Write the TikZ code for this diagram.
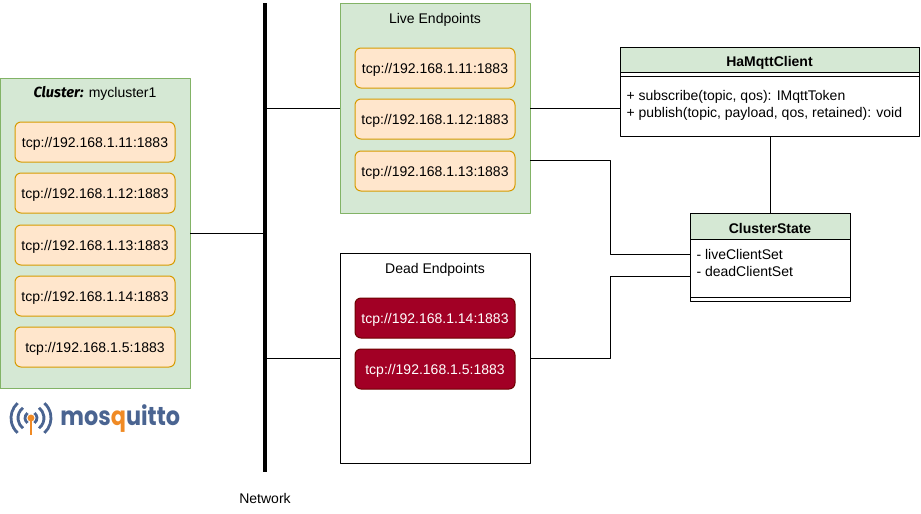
\documentclass[tikz,border=0pt]{standalone}
\usepackage{fontspec}
\setmainfont{Liberation Sans}
\newfontfamily\titlefont{Fira Sans}
\newfontfamily\logofont{Poppins}
\definecolor{boxgreen}{HTML}{D5E8D4}
\definecolor{linegreen}{HTML}{82B366}
\definecolor{boxorange}{HTML}{FFE6CC}
\definecolor{lineorange}{HTML}{D79B00}
\definecolor{boxred}{HTML}{A20025}
\definecolor{linered}{HTML}{6F0000}
\definecolor{logoblue}{HTML}{4A6491}
\definecolor{logoorange}{HTML}{F08A24}
\tikzset{
	endpoint/.style={draw=lineorange,fill=boxorange,rounded corners=4.5pt,minimum width=120pt,minimum height=30pt,inner sep=0pt,outer sep=0pt,text height=7.6pt,text depth=0pt},
	deadpoint/.style={endpoint,draw=linered,fill=boxred,text=white},
	greenbox/.style={draw=linegreen,fill=boxgreen,minimum width=142.5pt,minimum height=232.5pt,inner sep=0pt,outer sep=0pt},
	deadbox/.style={greenbox,draw=black,fill=white,minimum height=157.5pt},
	classbox/.style={draw=black,fill=white,inner sep=0pt,outer sep=0pt},
	classhead/.style={draw=black,fill=boxgreen,inner sep=0pt,outer sep=0pt,text height=10.5pt,text depth=0pt,font=\fontsize{10.5pt}{12pt}\selectfont\bfseries},
	boxtitle/.style={inner sep=0pt,text height=7.6pt,text depth=0pt},
	classtext/.style={inner sep=0pt,anchor=west,align=left},
	wire/.style={draw=black}
}
\begin{document}
\begin{tikzpicture}[x=0.75pt,y=-0.75pt,font=\fontsize{10.5pt}{13pt}\selectfont,line width=0.75pt,line join=round]
	\useasboundingbox (0,0) rectangle (921,514);
	% cluster on the left
	\node[greenbox] (cluster) at (95,233) {};
	\node[boxtitle] (clustertitle) at (95,92) {{\titlefont\bfseries\itshape\fontsize{11pt}{13pt}\selectfont Cluster:} mycluster1};
	\node[endpoint] (c1) at (95,142) {tcp://192.168.1.11:1883};
	\node[endpoint] (c2) at (95,193) {tcp://192.168.1.12:1883};
	\node[endpoint] (c3) at (95,245) {tcp://192.168.1.13:1883};
	\node[endpoint] (c4) at (95,296) {tcp://192.168.1.14:1883};
	\node[endpoint] (c5) at (95,347) {tcp://192.168.1.5:1883};
	% logo
	\coordinate (pin) at (31,418);
	\foreach \r/\a in {6/55,13/52,20/48}{
		\draw[logoblue,line width=2.1pt] ([shift={(180-\a:\r*0.75pt)}]pin) arc[start angle=180-\a,end angle=180+\a,radius=\r*0.75pt];
		\draw[logoblue,line width=2.1pt] ([shift={(-\a:\r*0.75pt)}]pin) arc[start angle=-\a,end angle=\a,radius=\r*0.75pt];
	}
	\draw[logoorange,line width=1pt] (pin) -- (31,435);
	\fill[logoorange] (pin) circle(2.6pt);
	\node[inner sep=0pt,anchor=base west,xscale=0.86,text=logoblue,font=\logofont\bfseries\fontsize{19.5pt}{22pt}\selectfont] (logotext) at (60,425) {mos{\color{logoorange}q}uitto};
	% network bar
	\node[fill=black,minimum width=3pt,minimum height=352pt,inner sep=0pt,outer sep=0pt] (bar) at (265,237.5) {};
	\node[inner sep=0pt] (network) at (265,498) {Network};
	% live endpoints
	\node[greenbox,minimum height=157.5pt] (live) at (435,108) {};
	\node[boxtitle] (livetitle) at (435,18) {Live Endpoints};
	\node[endpoint] (l1) at (435,68) {tcp://192.168.1.11:1883};
	\node[endpoint] (l2) at (435,119) {tcp://192.168.1.12:1883};
	\node[endpoint] (l3) at (435,171) {tcp://192.168.1.13:1883};
	% dead endpoints
	\node[deadbox] (dead) at (435,358) {};
	\node[boxtitle] (deadtitle) at (435,268) {Dead Endpoints};
	\node[deadpoint] (d1) at (435,318) {tcp://192.168.1.14:1883};
	\node[deadpoint] (d2) at (435,369) {tcp://192.168.1.5:1883};
	% ha client
	\node[classbox,minimum width=224.25pt,minimum height=66.75pt] (client) at (769.5,91.5) {};
	\node[classhead,minimum width=224.25pt,minimum height=18.75pt] (clienthead) at (769.5,59.5) {HaMqttClient};
	\draw (client.west |- 0,76) -- (client.east |- 0,76);
	\node[classtext] (clienttext) at (626,105.5) {+ subscribe(topic, qos): IMqttToken\\+ publish(topic, payload, qos, retained): void};
	% cluster state
	\node[classbox,minimum width=120pt,minimum height=66pt] (state) at (770,257) {};
	\node[classhead,minimum width=120pt,minimum height=19.5pt] (statehead) at (770,226) {ClusterState};
	\draw (state.west |- 0,297) -- (state.east |- 0,297);
	\node[classtext] (statetext) at (696,263) {- liveClientSet\\- deadClientSet};
	% connectors
	\draw[wire] (cluster) -- (cluster -| bar);
	\draw[wire] (bar |- live) -- (live);
	\draw[wire] (bar |- dead) -- (dead);
	\draw[wire] (live.east) -- (live.east -| client.west);
	\draw[wire] (client.south -| state) -- (state.north);
	\coordinate (livein) at (state.west |- 0,254);
	\coordinate (deadin) at (state.west |- 0,276);
	\draw[wire] (live.east |- 0,160) -- (610,160) -- (610,254) -- (livein);
	\draw[wire] (dead.east) -- (610,358) -- (610,276) -- (deadin);
\end{tikzpicture}
\end{document}
